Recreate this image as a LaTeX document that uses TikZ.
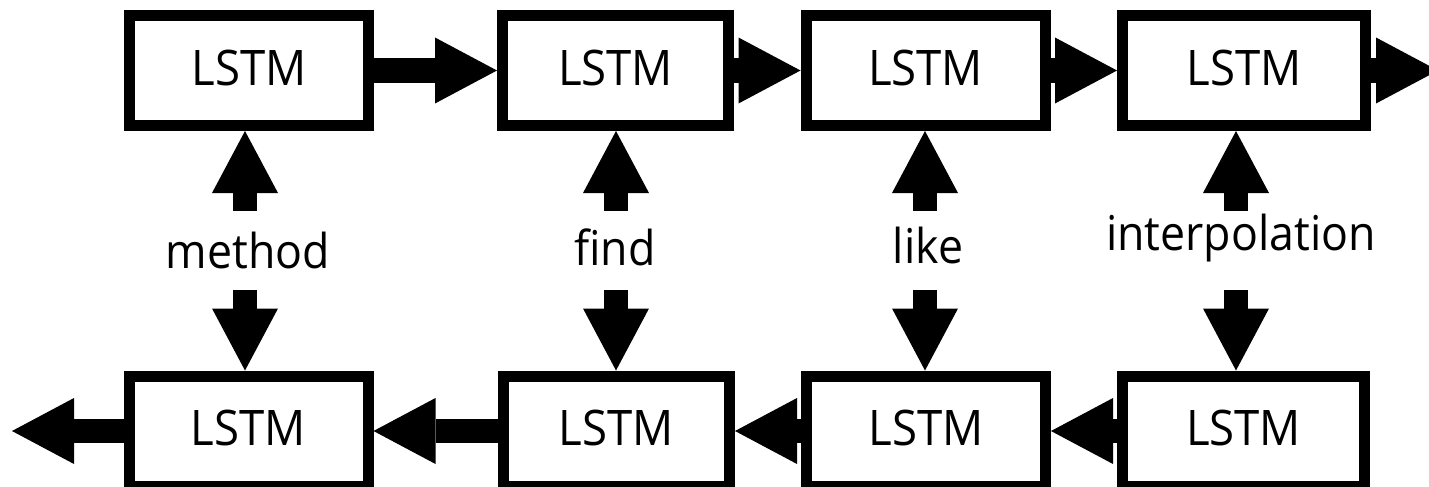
\documentclass[tikz,border=0pt]{standalone}
\usepackage{fontspec}
\setmainfont{Open Sans}[FakeStretch=0.93]
\usetikzlibrary{arrows.meta}
\begin{document}
\begin{tikzpicture}[x=1pt,y=-1pt,
  cell/.style={draw=black, line width=11pt, fill=white, minimum width=239pt,
    minimum height=110pt, inner sep=0pt, text height=35pt, text depth=6pt,
    font=\fontsize{49}{58}\selectfont},
  word/.style={anchor=base, inner sep=0pt, font=\fontsize{48}{58}\selectfont},
  blk/.style={line width=24pt, -{Triangle[length=62pt,width=66pt,line width=0pt]}}
]
\useasboundingbox (0,0) rectangle (1429,487);
\clip (0,0) rectangle (1429,487);

% forward LSTM chain
\node[cell] (t1) at (249,70.5) {LSTM};
\node[cell, minimum width=226pt] (t2) at (615.5,70.5) {LSTM};
\node[cell] (t3) at (925.5,70.5) {LSTM};
\node[cell, minimum width=243pt] (t4) at (1244,70.5) {LSTM};

% backward LSTM chain
\node[cell] (b1) at (248.5,431) {LSTM};
\node[cell, minimum width=226pt] (b2) at (616.5,431) {LSTM};
\node[cell] (b3) at (926,431) {LSTM};
\node[cell, minimum width=242pt] (b4) at (1243.5,431) {LSTM};

% input words
\node[word] (w1) at (248,268) {method};
\node[word] (w2) at (615,265) {find};
\node[word] (w3) at (928,263) {like};
\node[word] (w4) at (1241,250) {interpolation};

% free ends of the arrows
\coordinate (tout) at (1438,70.5);
\coordinate (bout) at (12,431);
\coordinate (u1) at (245,211);  \coordinate (d1) at (245,290);
\coordinate (u2) at (616,211);  \coordinate (d2) at (616,290);
\coordinate (u3) at (925,211);  \coordinate (d3) at (925,290);
\coordinate (u4) at (1236,211); \coordinate (d4) at (1236,290);

% recurrent connections
\draw[blk] (t1.east) -- (t2.west);
\draw[blk] (t2.east) -- (t3.west);
\draw[blk] (t3.east) -- (t4.west);
\draw[blk] (t4.east) -- (tout);
\draw[blk] (b4.west) -- (b3.east);
\draw[blk] (b3.west) -- (b2.east);
\draw[blk] (b2.west) -- (b1.east);
\draw[blk] (b1.west) -- (bout);

% word inputs to both chains
\foreach \i in {1,2,3,4} {
  \draw[blk] (u\i) -- (u\i |- t\i.south);
  \draw[blk] (d\i) -- (d\i |- b\i.north);
}
\end{tikzpicture}
\end{document}
